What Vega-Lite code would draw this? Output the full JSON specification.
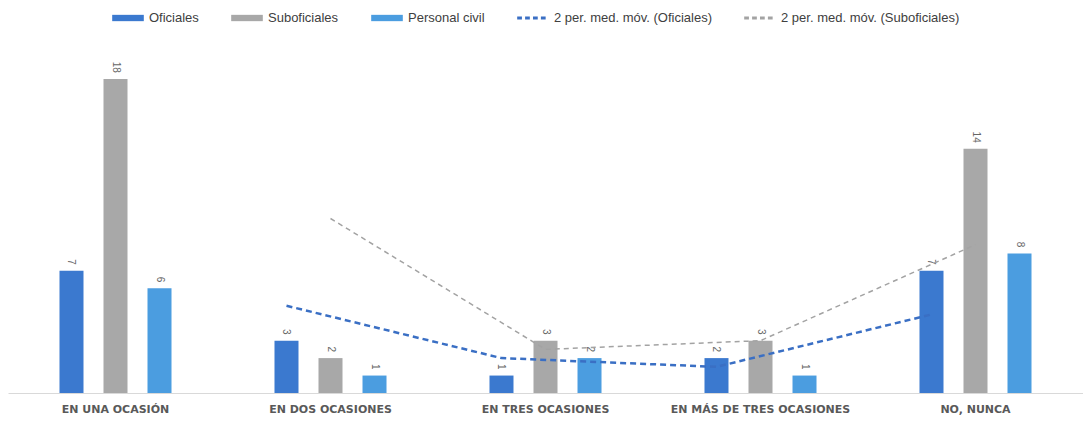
{
  "$schema": "https://vega.github.io/schema/vega-lite/v6.json",
  "width": 1075,
  "height": 349,
  "autosize": {"type": "none"},
  "padding": {"left": 8, "top": 44, "right": 0, "bottom": 28},
  "background": "#ffffff",
  "config": {
    "view": {"stroke": null},
    "font": "Liberation Sans",
    "axis": {"grid": false}
  },
  "datasets": {
    "respuestas": [
      {"categoria": "EN UNA OCASIÓN", "serie": "Oficiales", "cantidad": 7},
      {"categoria": "EN UNA OCASIÓN", "serie": "Suboficiales", "cantidad": 18},
      {"categoria": "EN UNA OCASIÓN", "serie": "Personal civil", "cantidad": 6},
      {"categoria": "EN DOS OCASIONES", "serie": "Oficiales", "cantidad": 3},
      {"categoria": "EN DOS OCASIONES", "serie": "Suboficiales", "cantidad": 2},
      {"categoria": "EN DOS OCASIONES", "serie": "Personal civil", "cantidad": 1},
      {"categoria": "EN TRES OCASIONES", "serie": "Oficiales", "cantidad": 1},
      {"categoria": "EN TRES OCASIONES", "serie": "Suboficiales", "cantidad": 3},
      {"categoria": "EN TRES OCASIONES", "serie": "Personal civil", "cantidad": 2},
      {"categoria": "EN MÁS DE TRES OCASIONES", "serie": "Oficiales", "cantidad": 2},
      {"categoria": "EN MÁS DE TRES OCASIONES", "serie": "Suboficiales", "cantidad": 3},
      {"categoria": "EN MÁS DE TRES OCASIONES", "serie": "Personal civil", "cantidad": 1},
      {"categoria": "NO, NUNCA", "serie": "Oficiales", "cantidad": 7},
      {"categoria": "NO, NUNCA", "serie": "Suboficiales", "cantidad": 14},
      {"categoria": "NO, NUNCA", "serie": "Personal civil", "cantidad": 8}
    ],
    "medias": [
      {"categoria": "EN DOS OCASIONES", "serie": "Oficiales", "linea": "2 per. med. móv. (Oficiales)", "media": 5},
      {"categoria": "EN TRES OCASIONES", "serie": "Oficiales", "linea": "2 per. med. móv. (Oficiales)", "media": 2},
      {"categoria": "EN MÁS DE TRES OCASIONES", "serie": "Oficiales", "linea": "2 per. med. móv. (Oficiales)", "media": 1.5},
      {"categoria": "NO, NUNCA", "serie": "Oficiales", "linea": "2 per. med. móv. (Oficiales)", "media": 4.5},
      {"categoria": "EN DOS OCASIONES", "serie": "Suboficiales", "linea": "2 per. med. móv. (Suboficiales)", "media": 10},
      {"categoria": "EN TRES OCASIONES", "serie": "Suboficiales", "linea": "2 per. med. móv. (Suboficiales)", "media": 2.5},
      {"categoria": "EN MÁS DE TRES OCASIONES", "serie": "Suboficiales", "linea": "2 per. med. móv. (Suboficiales)", "media": 3},
      {"categoria": "NO, NUNCA", "serie": "Suboficiales", "linea": "2 per. med. móv. (Suboficiales)", "media": 8.5}
    ]
  },
  "encoding": {
    "x": {
      "field": "categoria",
      "type": "nominal",
      "sort": ["EN UNA OCASIÓN", "EN DOS OCASIONES", "EN TRES OCASIONES", "EN MÁS DE TRES OCASIONES", "NO, NUNCA"],
      "scale": {"paddingInner": 0.479, "paddingOuter": 0.2395},
      "axis": {
        "title": null,
        "labelAngle": 0,
        "labelFont": "DejaVu Sans",
        "labelFontWeight": "bold",
        "labelFontSize": 11,
        "labelColor": "#595959",
        "labelPadding": 10,
        "ticks": false,
        "domainColor": "#d9d9d9",
        "domainWidth": 1
      }
    },
    "xOffset": {
      "field": "serie",
      "type": "nominal",
      "sort": ["Oficiales", "Suboficiales", "Personal civil"],
      "scale": {"domain": ["Oficiales", "Suboficiales", "Personal civil"], "paddingInner": 0.4545, "paddingOuter": 0}
    },
    "y": {"type": "quantitative", "scale": {"domain": [0, 20]}, "axis": null}
  },
  "layer": [
    {
      "data": {"name": "respuestas"},
      "mark": {"type": "bar"},
      "encoding": {
        "y": {"field": "cantidad", "type": "quantitative"},
        "color": {
          "field": "serie",
          "type": "nominal",
          "scale": {
            "domain": ["Oficiales", "Suboficiales", "Personal civil", "2 per. med. móv. (Oficiales)", "2 per. med. móv. (Suboficiales)"],
            "range": ["#3b79cf", "#a8a8a8", "#4b9de0", "#3a6fc4", "#a3a3a3"]
          },
          "legend": {
            "title": null,
            "orient": "none",
            "legendX": 104,
            "legendY": -42,
            "direction": "horizontal",
            "columns": 5,
            "columnPadding": 32,
            "padding": 0,
            "symbolSize": 1000,
            "symbolStrokeWidth": 0,
            "labelFont": "Liberation Sans",
            "labelFontSize": 13,
            "labelLimit": 0,
            "labelColor": "#404040",
            "labelOffset": 5,
            "encode": {
              "symbols": {
                "update": {
                  "shape": {"signal": "indexof(datum.value, '2 per') === 0 ? 'M-1,-0.09H-0.7V0.09H-1Z M-0.5,-0.09H-0.2V0.09H-0.5Z M0,-0.09H0.3V0.09H0Z M0.5,-0.09H0.8V0.09H0.5Z' : 'M-1,-0.2H1V0.2H-1Z'"},
                  "fill": {"scale": "color", "field": "value"},
                  "stroke": {"value": "transparent"},
                  "opacity": {"value": 1}
                }
              }
            }
          }
        }
      }
    },
    {
      "data": {"name": "respuestas"},
      "mark": {"type": "text", "angle": 90, "align": "right", "baseline": "middle", "yOffset": -6, "fontSize": 10, "color": "#666666", "font": "Liberation Sans"},
      "encoding": {
        "y": {"field": "cantidad", "type": "quantitative"},
        "text": {"field": "cantidad", "type": "quantitative"}
      }
    },
    {
      "data": {"name": "medias"},
      "transform": [{"filter": "datum.serie === 'Suboficiales'"}],
      "mark": {"type": "line", "strokeWidth": 1.5, "strokeDash": [5, 4]},
      "encoding": {
        "y": {"field": "media", "type": "quantitative"},
        "color": {"field": "linea", "type": "nominal"}
      }
    },
    {
      "data": {"name": "medias"},
      "transform": [{"filter": "datum.serie === 'Oficiales'"}],
      "mark": {"type": "line", "strokeWidth": 2.5, "strokeDash": [6, 4]},
      "encoding": {
        "y": {"field": "media", "type": "quantitative"},
        "color": {"field": "linea", "type": "nominal"}
      }
    }
  ]
}
